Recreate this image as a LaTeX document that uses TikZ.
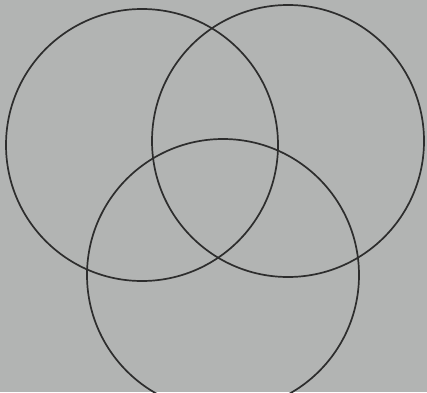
\documentclass[tikz,border=0pt]{standalone}
\definecolor{bg}{RGB}{178,180,179}
\definecolor{ink}{RGB}{45,45,45}
\begin{document}
\begin{tikzpicture}[x=1pt,y=1pt,ring/.style={draw=ink,line width=1.7pt}]
\fill[bg] (0,0) rectangle (427,392);
\useasboundingbox (0,0) rectangle (427,392);
\coordinate (c1) at (142,247);
\coordinate (c2) at (288,251);
\coordinate (c3) at (223,117);
\draw[ring] (c1) circle[radius=136];
\draw[ring] (c2) circle[radius=136];
\draw[ring] (c3) circle[radius=136];
\end{tikzpicture}
\end{document}
